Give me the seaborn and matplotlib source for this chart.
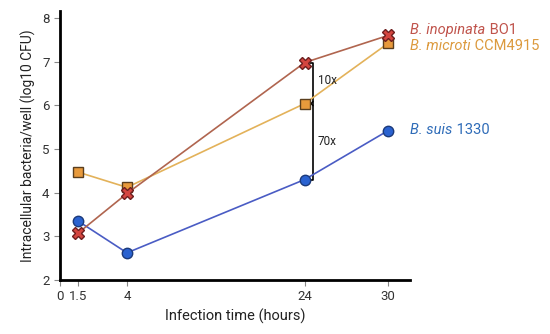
import numpy as np
import pandas as pd
import matplotlib
matplotlib.use("Agg")
import matplotlib.pyplot as plt
import matplotlib.transforms as mtransforms
import seaborn as sns

# data
hours = [1.5, 4, 24, 30]
suis = [3.35, 2.62, 4.30, 5.42]
inopinata = [3.07, 3.98, 6.98, 7.60]
microti = [4.47, 4.12, 6.04, 7.42]

xticks = [0, 1.5, 4, 24, 30]
yticks = [2, 3, 4, 5, 6, 7, 8]

# the x axis in the figure is not linear: knots of the pixel spacing
knot_x = [-10, 0, 1.5, 4, 24, 30, 100]
knot_p = [-120, 0, 18, 67, 244.7, 328, 1300]


def fwd(x):
    return np.interp(x, knot_x, knot_p)


def inv(p):
    return np.interp(p, knot_p, knot_x)


sns.set_style("white")
plt.rcParams["font.family"] = ["Roboto", "DejaVu Sans"]

fig = plt.figure(figsize=(5.5, 3.34), dpi=100)
ax = fig.add_axes([0.109, 0.162, 0.637, 0.805])
ax.set_xscale("function", functions=(fwd, inv))

series = [
    ("suis", suis, "o", "#4a5cc4", "#2a62d0", "#1b3a7a", 7.5),
    ("microti", microti, "s", "#e3b25a", "#e89a3c", "#5a3e1e", 7.5),
    ("inopinata", inopinata, "X", "#b0654f", "#d4453f", "#6e1f1f", 9),
]
for name, vals, mk, lc, fc, ec, ms in series:
    df = pd.DataFrame({"hours": hours, "val": vals})
    sns.lineplot(data=df, x="hours", y="val", ax=ax, color=lc, lw=1.2,
                 marker=mk, markersize=ms, markerfacecolor=fc,
                 markeredgecolor=ec, markeredgewidth=1.0, zorder=3)

# bracket at 24 h
bx, hx = 24.6, 24.4
ax.plot([hx, bx, bx, hx], [inopinata[2], inopinata[2], suis[2], suis[2]],
        color="black", lw=1.2, zorder=2)
ax.plot([bx, hx + 0.05, bx], [microti[2] + 0.05, microti[2], microti[2] - 0.05],
        color="black", lw=1.0, zorder=2)
ax.text(24.95, (inopinata[2] + microti[2]) / 2 + 0.05, "10x", fontsize=8.5,
        va="center", ha="left", color="#222222")
ax.text(24.95, (microti[2] + suis[2]) / 2, "70x", fontsize=8.5,
        va="center", ha="left", color="#222222")

# labels right of the plot: italic species, upright strain
trans = mtransforms.blended_transform_factory(ax.transAxes, ax.transData)
labels = [("B. inopinata", " BO1", 7.73, "#c0544c"),
          ("B. microti", " CCM4915", 7.35, "#dc9a3e"),
          ("B. suis", " 1330", 5.44, "#2f6cb8")]
for sp, strain, yv, col in labels:
    t = ax.text(1.0, yv, sp, transform=trans, color=col, fontsize=10.5,
                fontstyle="italic", va="center", ha="left", clip_on=False)
    ax.annotate(strain, xy=(1, 0.5), xycoords=t, color=col, fontsize=10.5,
                va="center", ha="left", annotation_clip=False)

ax.set_xlim(0, 31.6)
ax.set_ylim(2, 8.16)
ax.set_xticks(xticks)
ax.set_xticklabels(["0", "1.5", "4", "24", "30"])
ax.set_yticks(yticks)
ax.tick_params(axis="both", direction="out", length=4, width=0.8,
               color="#888888", labelcolor="#333333", labelsize=9.5,
               bottom=True, left=True)
ax.set_xlabel("Infection time (hours)", fontsize=10.5, color="#222222")
ax.set_ylabel("Intracellular bacteria/well (log10 CFU)", fontsize=10,
              color="#222222")
for s in ["top", "right"]:
    ax.spines[s].set_visible(False)
for s in ["left", "bottom"]:
    ax.spines[s].set_linewidth(2)
    ax.spines[s].set_color("black")

fig.savefig("out.png", dpi=100)
